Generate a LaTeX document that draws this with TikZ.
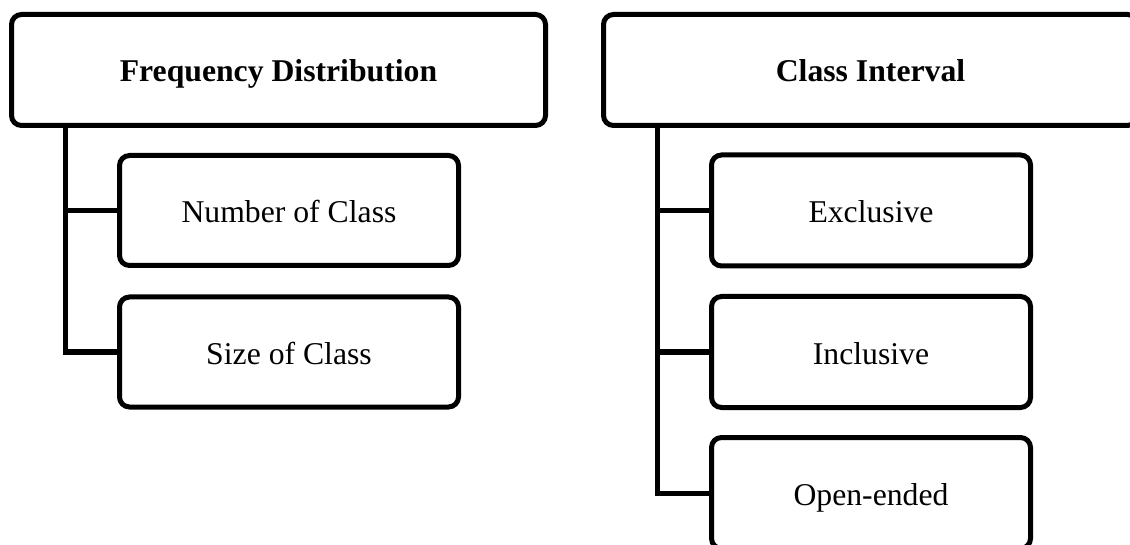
\documentclass[tikz,border=0pt]{standalone}
\usepackage{fontspec}
\setmainfont{Liberation Serif}
\begin{document}
\begin{tikzpicture}[x=1pt,y=-1pt,
  box/.style={draw=black, line width=5pt, rounded corners=10pt, fill=white,
    font=\fontsize{31.7}{38}\selectfont, align=center, inner sep=0pt, outer sep=0pt,
    text height=30pt, text depth=6pt},
  headbox/.style={box, minimum width=534pt, minimum height=111pt, font=\fontsize{31.7}{38}\selectfont\bfseries},
  childbox/.style={box, minimum width=339pt, minimum height=110pt},
  rchildbox/.style={box, minimum width=319pt, minimum height=111pt},
  conn/.style={draw=black, line width=5pt}]
\useasboundingbox (0,0) rectangle (1130,545);
\clip (0,0) rectangle (1130,545);
\coordinate (t1) at (65,125);
\coordinate (t2) at (657,125);
\node[childbox] (c1) at (289,210.5) {Number of Class};
\node[childbox] (c2) at (289,352) {Size of Class};
\node[rchildbox] (r1) at (871,210.5) {Exclusive};
\node[rchildbox] (r2) at (871,352) {Inclusive};
\node[rchildbox] (r3) at (871,493) {Open-ended};
\draw[conn, line join=miter] (t1) |- (c2.west);
\draw[conn] (t1 |- c1.west) -- (c1.west);
\draw[conn, line join=miter] (t2) |- (r3.west);
\draw[conn] (t2 |- r1.west) -- (r1.west);
\draw[conn] (t2 |- r2.west) -- (r2.west);
\node[headbox] (h1) at (278.5,70) {Frequency Distribution};
\node[headbox] (h2) at (870.5,70) {Class Interval};
\end{tikzpicture}
\end{document}
